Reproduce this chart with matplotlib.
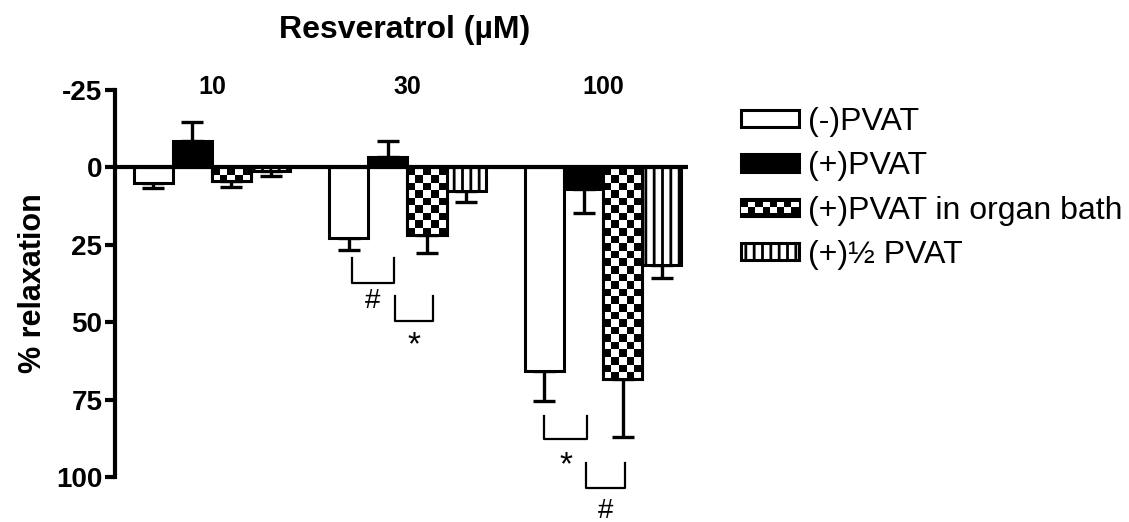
import matplotlib
matplotlib.use('Agg')
import matplotlib.pyplot as plt
import numpy as np
from matplotlib.patches import Rectangle
from matplotlib.legend_handler import HandlerBase

plt.rcParams['font.family'] = ['Liberation Sans', 'DejaVu Sans']
plt.rcParams['hatch.linewidth'] = 2.0

concentrations = ['10', '30', '100']
series_names = ['(-)PVAT', '(+)PVAT', '(+)PVAT in organ bath', '(+)½ PVAT']
minus_pvat = [5.0, 22.7, 65.9]
minus_pvat_err = [1.5, 4.0, 9.7]
plus_pvat = [-8.4, -3.2, 7.1]
plus_pvat_err = [6.3, 5.3, 7.6]
organ_bath = [4.4, 21.7, 68.3]
organ_bath_err = [2.0, 5.8, 18.7]
half_pvat = [1.3, 7.7, 31.4]
half_pvat_err = [1.6, 3.5, 4.3]

values = [minus_pvat, plus_pvat, organ_bath, half_pvat]
errors = [minus_pvat_err, plus_pvat_err, organ_bath_err, half_pvat_err]
styles = ['white', 'black', 'checker', 'stripe']

# significance brackets: (x0, x1, y_top, y_bottom, symbol, text_y)
brackets = [
    (0.714, 0.929, 29.4, 37.2, '#', 43.0),
    (0.934, 1.133, 41.4, 49.5, '*', 57.5),
    (1.699, 1.918, 80.3, 87.7, '*', 96.5),
    (1.913, 2.112, 95.5, 103.6, '#', 111.0),
]

fig = plt.figure(figsize=(11.29, 5.22), dpi=100)
ax = fig.add_axes([115 / 1129, 1 - 477 / 522, (688 - 115) / 1129, (477 - 90) / 522])

width = 0.2
x = np.arange(len(concentrations))
lw = 2.2


def draw_checker(ax, left, bottom, w, h, clip):
    cx = w / 5
    cy = 2.45
    xe = np.arange(left, left + w + cx * 0.5, cx)
    ye = np.arange(bottom, bottom + h + cy, cy)
    ii, jj = np.meshgrid(np.arange(len(ye) - 1), np.arange(len(xe) - 1), indexing='ij')
    c = ((ii + jj) % 2).astype(float)
    m = ax.pcolormesh(xe, ye, c, cmap='gray', vmin=0, vmax=1, zorder=2, shading='flat')
    m.set_clip_path(clip)


for i, (vals, errs, st) in enumerate(zip(values, errors, styles)):
    pos = x + (i - 1.5) * width
    vals = np.array(vals)
    errs = np.array(errs)
    fc = 'black' if st == 'black' else 'white'
    hatch = '||' if st == 'stripe' else None
    bars = ax.bar(pos, vals, width, color=fc, edgecolor='black', linewidth=lw,
                  hatch=hatch, zorder=1)
    if st == 'checker':
        for b in bars:
            bx, by = b.get_x(), b.get_y()
            bw, bh = b.get_width(), b.get_height()
            draw_checker(ax, bx, min(by, by + bh), bw, abs(bh), b)
        ax.bar(pos, vals, width, color='none', edgecolor='black', linewidth=lw, zorder=3)
    lower = np.where(vals < 0, errs, 0)
    upper = np.where(vals >= 0, errs, 0)
    ax.errorbar(pos, vals, yerr=[lower, upper], fmt='none', ecolor='black',
                elinewidth=2.4, capsize=8, capthick=2.4, zorder=0)

ax.axhline(0, color='black', linewidth=3, zorder=4)

for x0, x1, yt, yb, sym, ty in brackets:
    ax.plot([x0, x0, x1, x1], [yt, yb, yb, yt], color='black', linewidth=1.6,
            clip_on=False)
    ax.text((x0 + x1) / 2, ty, sym, ha='center', va='center',
            fontsize=20 if sym == '#' else 24, clip_on=False)

for xi, lab in zip(x, concentrations):
    ax.text(xi, -23.6, lab, ha='center', va='baseline', fontsize=18, fontweight='bold')

ax.set_xlim(-0.495, 2.434)
ax.set_ylim(100, -25)
ax.set_yticks([-25, 0, 25, 50, 75, 100])
ax.set_yticklabels(['-25', '0', '25', '50', '75', '100'], fontsize=20, fontweight='bold')
ax.set_xticks([])
for s in ['top', 'right', 'bottom']:
    ax.spines[s].set_visible(False)
ax.spines['left'].set_linewidth(3)
ax.tick_params(axis='y', length=7, width=3, pad=2)
ax.set_ylabel('% relaxation', fontsize=22, fontweight='bold', labelpad=6)

fig.text(405 / 1129, 1 - 30 / 522, 'Resveratrol (µM)', ha='center', va='center',
         fontsize=23, fontweight='bold')


class HandlerChecker(HandlerBase):
    def create_artists(self, legend, orig_handle, xdescent, ydescent, width, height,
                       fontsize, trans):
        x0, y0 = -xdescent, -ydescent
        arts = [Rectangle((x0, y0), width, height, facecolor='black',
                          edgecolor='black', linewidth=lw, transform=trans)]
        n = 8
        cw = width / n
        for r in range(2):
            for k in range(n):
                if (k + r) % 2 == 0:
                    arts.append(Rectangle((x0 + k * cw, y0 + height * (0.2 + 0.3 * r)),
                                          cw, height * 0.3, facecolor='white',
                                          edgecolor='none', transform=trans))
        return arts


handles = [
    Rectangle((0, 0), 1, 1, facecolor='white', edgecolor='black', linewidth=lw),
    Rectangle((0, 0), 1, 1, facecolor='black', edgecolor='black', linewidth=lw),
    Rectangle((0, 0), 1, 1, facecolor='white', edgecolor='black', linewidth=lw),
    Rectangle((0, 0), 1, 1, facecolor='white', edgecolor='black', linewidth=lw, hatch='||'),
]
leg = fig.legend(handles, series_names, loc='upper left',
                 bbox_to_anchor=(741 / 1129, 1 - 107 / 522), frameon=False,
                 borderpad=0, borderaxespad=0,
                 fontsize=23, handlelength=1.8, handleheight=0.45, handletextpad=0.3,
                 labelspacing=0.45, handler_map={handles[2]: HandlerChecker()})

fig.savefig('out.png', dpi=100)
